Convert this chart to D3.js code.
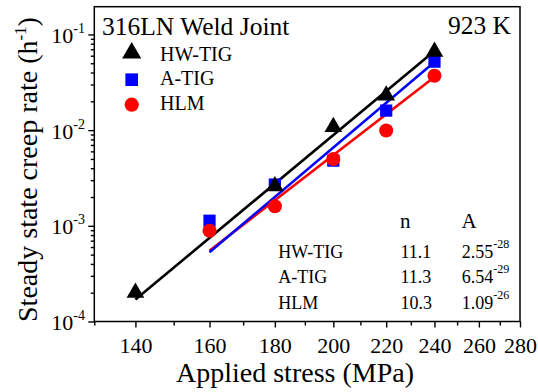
<!DOCTYPE html>
<html>
<head>
<meta charset="utf-8">
<script src="https://cdn.jsdelivr.net/npm/d3@7"></script>
</head>
<body style="margin:0;padding:0;background:#fff">
<svg id="chart" width="538" height="392" style="display:block;background:#fff"></svg>
<script>
// ---- data ----
const xMajorTicks = [140, 160, 180, 200, 220, 240, 260, 280];
const xMinorTicks = [130, 150, 170, 190, 210, 230, 250, 270];
const yDecadeTicks = [1e-4, 1e-3, 1e-2, 1e-1];
const yDecadeExps = ["-4", "-3", "-2", "-1"];

const seriesNames = ["HW-TIG", "A-TIG", "HLM"];
const seriesColors = ["#000000", "#0000ff", "#ff0000"];

const stressHW = [140, 180, 200, 220, 240];
const rateHW = [2.0e-4, 2.6e-3, 1.08e-2, 2.3e-2, 6.6e-2];
const stressATIG = [160, 180, 200, 220, 240];
const rateATIG = [1.13e-3, 2.7e-3, 4.8e-3, 1.6e-2, 5.2e-2];
const stressHLM = [160, 180, 200, 220, 240];
const rateHLM = [8.9e-4, 1.6e-3, 5.0e-3, 9.9e-3, 3.7e-2];

const fitStressHW = [140, 240];
const fitRateHW = [1.7e-4, 6.7e-2];
const fitStressATIG = [160, 240];
const fitRateATIG = [5.3e-4, 5.15e-2];
const fitStressHLM = [160, 240];
const fitRateHLM = [5.5e-4, 3.6e-2];

const tableN = ["11.1", "11.3", "10.3"];
const tableAMant = ["2.55", "6.54", "1.09"];
const tableAExp = ["-28", "-29", "-26"];

// ---- layout ----
const FONT = '"Liberation Serif"';
const svg = d3.select("#chart");
const L = 94.3, R = 520, T = 6.7, B = 321.5;

const x = d3.scaleLog().domain([130, 280]).range([L, R]);
const y = d3.scaleLog().domain([1e-4, 0.195]).range([B, T]);

function txt(parent, size) {
  return parent.append("text").style("font-family", FONT).style("font-size", size + "px").attr("fill", "#000");
}

// frame
svg.append("rect").attr("x", L).attr("y", T).attr("width", R - L).attr("height", B - T)
  .attr("fill", "none").attr("stroke", "#000").attr("stroke-width", 1.5);

// x axis
const gx = svg.append("g").attr("transform", `translate(0,${B})`);
gx.call(d3.axisBottom(x).tickValues(xMajorTicks).tickSize(6).tickFormat(d3.format("d")));
const gxm = svg.append("g").attr("transform", `translate(0,${B})`);
gxm.call(d3.axisBottom(x).tickValues(xMinorTicks).tickSize(4).tickFormat(""));
[gx, gxm].forEach(g => {
  g.select(".domain").remove();
  g.selectAll(".tick line").attr("stroke", "#000").attr("stroke-width", 1.4);
});
gx.selectAll(".tick text")
  .style("font-family", FONT).style("font-size", "22px").attr("fill", "#000")
  .attr("y", 15.5).attr("dy", "0.71em");

// y axis
const yMinorTicks = [];
yDecadeTicks.forEach(d => { for (let k = 2; k <= 9; k++) { const v = d * k; if (v < 0.195) yMinorTicks.push(v); } });
const gy = svg.append("g").attr("transform", `translate(${L},0)`);
gy.call(d3.axisLeft(y).tickValues(yDecadeTicks).tickSize(6).tickFormat(""));
const gym = svg.append("g").attr("transform", `translate(${L},0)`);
gym.call(d3.axisLeft(y).tickValues(yMinorTicks).tickSize(3.5).tickFormat(""));
[gy, gym].forEach(g => {
  g.select(".domain").remove();
  g.selectAll(".tick line").attr("stroke", "#000").attr("stroke-width", 1.4);
});
yDecadeTicks.forEach((d, i) => {
  const t = txt(svg, 22).attr("x", 85).attr("y", y(d) + 8.5).attr("text-anchor", "end");
  t.append("tspan").text("10");
  t.append("tspan").style("font-size", "14px").attr("dy", -10).text(yDecadeExps[i]);
});

// axis titles
txt(svg, 28).attr("x", 295).attr("y", 382).attr("text-anchor", "middle").text("Applied stress (MPa)");
const yt = txt(svg, 28).attr("transform", "translate(37,169.5) rotate(-90)").attr("text-anchor", "middle");
yt.append("tspan").text("Steady state creep rate (h");
yt.append("tspan").style("font-size", "17px").attr("dy", -11).text("-1");
yt.append("tspan").attr("dy", 11).text(")");

// fit lines
const line = d3.line().x(d => x(d[0])).y(d => y(d[1]));
const fits = [
  [fitStressHLM, fitRateHLM, seriesColors[2]],
  [fitStressATIG, fitRateATIG, seriesColors[1]],
  [fitStressHW, fitRateHW, seriesColors[0]]
];
fits.forEach(([xs, ys, c]) => {
  svg.append("path").datum(xs.map((v, i) => [v, ys[i]]))
    .attr("d", line).attr("fill", "none").attr("stroke", c).attr("stroke-width", 2.6);
});

// markers
const symTri = d3.symbol().type(d3.symbolTriangle).size(135);
const symSq = d3.symbol().type(d3.symbolSquare).size(150);
const symCir = d3.symbol().type(d3.symbolCircle).size(155);
function drawSeries(xs, ys, sym, color) {
  svg.append("g").selectAll("path").data(xs.map((v, i) => [v, ys[i]])).join("path")
    .attr("d", sym).attr("fill", color)
    .attr("transform", d => `translate(${x(d[0])},${y(d[1])})`);
}
drawSeries(stressATIG, rateATIG, symSq, seriesColors[1]);
drawSeries(stressHLM, rateHLM, symCir, seriesColors[2]);
drawSeries(stressHW, rateHW, symTri, seriesColors[0]);

// title texts
txt(svg, 25.5).attr("x", 102).attr("y", 34.5).text("316LN Weld Joint");
txt(svg, 25.5).attr("x", 511).attr("y", 33.5).attr("text-anchor", "end").text("923 K");

// legend
const legSyms = [
  d3.symbol().type(d3.symbolTriangle).size(160),
  d3.symbol().type(d3.symbolSquare).size(160),
  d3.symbol().type(d3.symbolCircle).size(160)
];
const legY = [53, 79.7, 104.7];
const legBase = [60.7, 85.3, 110.3];
seriesNames.forEach((name, i) => {
  svg.append("path").attr("d", legSyms[i]()).attr("fill", seriesColors[i])
    .attr("transform", `translate(131.7,${legY[i]})`);
  txt(svg, 20).attr("x", 160).attr("y", legBase[i]).text(name);
});

// parameter table
txt(svg, 21).attr("x", 400).attr("y", 228.3).text("n");
txt(svg, 21).attr("x", 461.5).attr("y", 228.3).text("A");
const rowBase = [257.7, 283.3, 309];
seriesNames.forEach((name, i) => {
  txt(svg, 18).attr("x", 278.3).attr("y", rowBase[i]).text(name);
  txt(svg, 18).attr("x", 400.5).attr("y", rowBase[i]).text(tableN[i]);
  const t = txt(svg, 18).attr("x", 461.7).attr("y", rowBase[i]);
  t.append("tspan").text(tableAMant[i]);
  t.append("tspan").style("font-size", "12px").attr("dy", -10).text(tableAExp[i]);
});
</script>
</body>
</html>
